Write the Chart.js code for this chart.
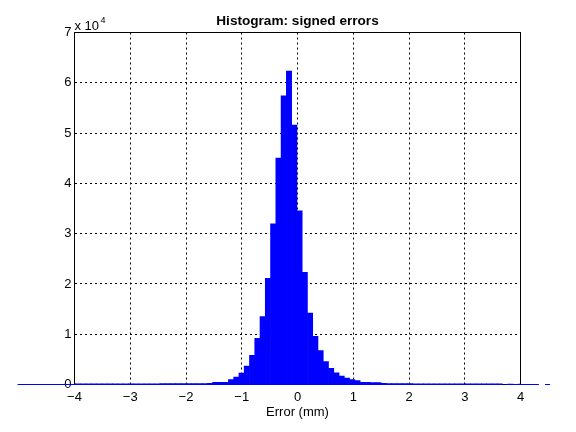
<!DOCTYPE html>
<html><head><meta charset="utf-8">
<script src="https://cdn.jsdelivr.net/npm/chart.js@4"></script>
<style>html,body{margin:0;padding:0;background:#fff}canvas{display:block}</style>
</head><body>
<canvas id="c" width="576" height="432"></canvas>
<script>
// ---- data ----
const binCenters = [
  -4.9720,-4.8775,-4.7830,-4.6885,-4.5940,-4.4995,-4.4050,-4.3105,-4.2160,-4.1215,
  -4.0270,-3.9325,-3.8380,-3.7435,-3.6490,-3.5545,-3.4600,-3.3655,-3.2710,-3.1765,
  -3.0820,-2.9875,-2.8930,-2.7985,-2.7040,-2.6095,-2.5150,-2.4205,-2.3260,-2.2315,
  -2.1370,-2.0425,-1.9480,-1.8535,-1.7590,-1.6645,-1.5700,-1.4755,-1.3810,-1.2865,
  -1.1920,-1.0975,-1.0030,-0.9085,-0.8140,-0.7195,-0.6250,-0.5305,-0.4360,-0.3415,
  -0.2470,-0.1525,-0.0580, 0.0365, 0.1310, 0.2255, 0.3200, 0.4145, 0.5090, 0.6035,
   0.6980, 0.7925, 0.8870, 0.9815, 1.0760, 1.1705, 1.2650, 1.3595, 1.4540, 1.5485,
   1.6430, 1.7375, 1.8320, 1.9265, 2.0210, 2.1155, 2.2100, 2.3045, 2.3990, 2.4935,
   2.5880, 2.6825, 2.7770, 2.8715, 2.9660, 3.0605, 3.1550, 3.2495, 3.3440, 3.4385,
   3.5330, 3.6275, 3.7220, 3.8165, 3.9110, 4.0055, 4.1000, 4.1945, 4.2890, 4.3835
];
const binCounts = [
  10, 0, 10, 10, 20, 10, 20, 20, 30, 30,
  130, 130, 130, 130, 130, 140, 140, 140, 140, 140,
  140, 150, 150, 150, 150, 150, 150, 160, 160, 160,
  160, 170, 170, 180, 190, 200, 220, 420, 430, 450,
  990, 1460, 2250, 3640, 5820, 9200, 13490, 21100, 31950, 45050,
  57420, 62310, 51600, 34530, 22290, 14220, 9590, 6750, 4560, 3240,
  2320, 1650, 1260, 990, 790, 420, 410, 400, 390, 210,
  200, 190, 180, 160, 160, 150, 150, 150, 150, 150,
  140, 140, 140, 140, 140, 130, 130, 130, 130, 120,
  120, 120, 0, 10, 0, 10, 0, 0, 10, 0
];
const baselineSegments = [[-5.02, 3.68], [3.756, 4.33], [4.44, 4.53]];
const xTickValues = [-4, -3, -2, -1, 0, 1, 2, 3, 4];
const xTickLabels = ['\u22124', '\u22123', '\u22122', '\u22121', '0', '1', '2', '3', '4'];
const yTickValues = [0, 10000, 20000, 30000, 40000, 50000, 60000, 70000];
const yTickLabels = ['0', '1', '2', '3', '4', '5', '6', '7'];
const titleText = 'Histogram: signed errors';
const xLabelText = 'Error (mm)';
const exponentBase = 'x 10';
const exponentPower = '4';

// ---- chart ----
const FONT = "'Liberation Sans', Arial, Helvetica, sans-serif";
Chart.defaults.color = '#000';
Chart.defaults.font.family = FONT;
Chart.defaults.font.size = 13;

const barData = binCenters.map((c, i) => ({x: c, y: binCounts[i]}));
const baselineData = [];
baselineSegments.forEach((s, k) => {
  if (k > 0) baselineData.push({x: (baselineSegments[k - 1][1] + s[0]) / 2, y: null});
  baselineData.push({x: s[0], y: 0}, {x: s[1], y: 0});
});

const exponentPlugin = {
  id: 'exponentLabel',
  afterDraw(chart) {
    const {ctx, chartArea} = chart;
    ctx.save();
    ctx.fillStyle = '#000';
    ctx.textAlign = 'left';
    ctx.textBaseline = 'alphabetic';
    ctx.font = '13px ' + FONT;
    ctx.fillText(exponentBase, chartArea.left, chartArea.top - 3);
    const w = ctx.measureText(exponentBase).width;
    ctx.font = '9px ' + FONT;
    ctx.fillText(exponentPower, chartArea.left + w + 1.5, chartArea.top - 10);
    ctx.restore();
  }
};

const gridStyle = {color: '#000', lineWidth: 1, drawTicks: false};
const borderStyle = {display: true, color: '#000', width: 1, dash: [2, 3]};

new Chart(document.getElementById('c'), {
  type: 'bar',
  data: {
    datasets: [
      {
        type: 'line', data: baselineData, borderColor: '#0000ff', borderWidth: 1,
        pointRadius: 0, spanGaps: false, clip: false, order: 0,
        xAxisID: 'x', yAxisID: 'y'
      },
      {
        type: 'bar', data: barData, backgroundColor: '#0000ff', borderWidth: 0,
        barPercentage: 1, categoryPercentage: 1, clip: 0, order: 1,
        xAxisID: 'x', yAxisID: 'y'
      }
    ]
  },
  options: {
    responsive: false,
    animation: false,
    devicePixelRatio: 1,
    layout: {padding: 0},
    plugins: {legend: {display: false}, tooltip: {enabled: false}, title: {display: false}},
    scales: {
      x: {
        type: 'linear', position: 'bottom', offset: false,
        afterDataLimits(s) { s.min = xTickValues[0]; s.max = xTickValues[xTickValues.length - 1]; },
        afterFit(s) { s.height = 47.5; },
        ticks: {stepSize: 1, padding: 5, autoSkip: false, maxRotation: 0,
          callback: v => { const i = xTickValues.indexOf(v); return i < 0 ? '' : xTickLabels[i]; }},
        grid: Object.assign({offset: false}, gridStyle), border: borderStyle,
        title: {display: true, text: xLabelText, padding: {top: 0, bottom: 12}}
      },
      x2: {
        type: 'linear', position: 'top', offset: false,
        afterFit(s) { s.height = 32.5; },
        ticks: {display: false}, grid: {display: false},
        border: {display: true, color: '#000', width: 1},
        title: {display: true, text: titleText, font: {weight: 'bold', size: 13.6}, padding: {top: 13.2, bottom: 0}}
      },
      y: {
        type: 'linear', position: 'left', min: 0, max: 70000,
        afterFit(s) { s.width = 74.5; },
        ticks: {stepSize: 10000, padding: 3,
          callback: v => { const i = yTickValues.indexOf(v); return i < 0 ? '' : yTickLabels[i]; }},
        grid: gridStyle, border: borderStyle
      },
      y2: {
        type: 'linear', position: 'right',
        afterFit(s) { s.width = 55.5; },
        ticks: {display: false}, grid: {display: false},
        border: {display: true, color: '#000', width: 1}
      }
    }
  },
  plugins: [exponentPlugin]
});
</script>
</body></html>
